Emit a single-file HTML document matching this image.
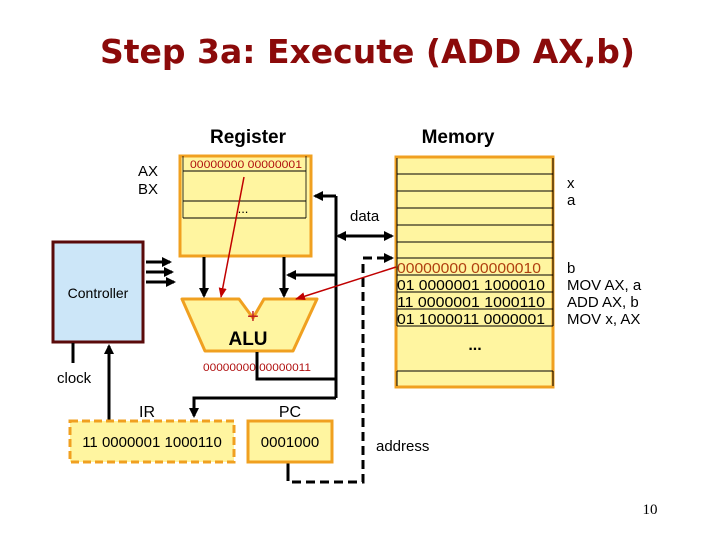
<!DOCTYPE html>
<html><head><meta charset="utf-8"><style>
html,body{margin:0;padding:0;background:#fff;width:720px;height:540px;overflow:hidden}
svg{display:block;font-family:"Liberation Sans",sans-serif}
</style></head><body>
<svg width="720" height="540" viewBox="0 0 720 540" xmlns="http://www.w3.org/2000/svg">
<defs>
<marker id="ah" markerWidth="10" markerHeight="10" refX="8" refY="5" orient="auto" markerUnits="userSpaceOnUse"><path d="M0,0 L10,5 L0,10 z" fill="#000"/></marker>
<marker id="ahs" markerWidth="10" markerHeight="10" refX="2" refY="5" orient="auto" markerUnits="userSpaceOnUse"><path d="M10,0 L0,5 L10,10 z" fill="#000"/></marker>
<marker id="ar" markerWidth="10" markerHeight="8" refX="9" refY="4" orient="auto" markerUnits="userSpaceOnUse"><path d="M0,0 L10,4 L0,8 z" fill="#c00000"/></marker>
</defs>

<text x="100" y="63" style="font-family:'DejaVu Sans',sans-serif;font-weight:bold" font-size="33" fill="#8b0a0a" textLength="535" lengthAdjust="spacingAndGlyphs">Step 3a: Execute (ADD AX,b)</text>

<text x="248" y="143" font-size="19" font-weight="bold" text-anchor="middle">Register</text>
<text x="458" y="143" font-size="19" font-weight="bold" text-anchor="middle">Memory</text>

<text x="138" y="176" font-size="15">AX</text>
<text x="138" y="194" font-size="15">BX</text>

<rect x="180" y="156" width="131" height="100" fill="#fff5a0" stroke="#f0a020" stroke-width="3"/>
<line x1="183" y1="171" x2="306" y2="171" stroke="#000"/>
<line x1="183" y1="201" x2="306" y2="201" stroke="#000"/>
<line x1="183" y1="218" x2="306" y2="218" stroke="#000"/>
<line x1="183" y1="156" x2="183" y2="218" stroke="#000" stroke-width="0.8"/>
<line x1="306" y1="156" x2="306" y2="218" stroke="#000" stroke-width="0.8"/>
<text x="190" y="168" font-size="11" fill="#b01010" textLength="112" lengthAdjust="spacingAndGlyphs">00000000 00000001</text>
<text x="243" y="213" font-size="13" text-anchor="middle">...</text>

<rect x="396" y="157" width="157" height="230" fill="#fff5a0" stroke="#f0a020" stroke-width="3"/>
<g stroke="#000" stroke-width="1">
<line x1="397" y1="174" x2="553" y2="174"/><line x1="397" y1="191" x2="553" y2="191"/>
<line x1="397" y1="208" x2="553" y2="208"/><line x1="397" y1="225" x2="553" y2="225"/>
<line x1="397" y1="242" x2="553" y2="242"/><line x1="397" y1="258" x2="553" y2="258"/>
<line x1="397" y1="275" x2="553" y2="275"/><line x1="397" y1="292" x2="553" y2="292"/>
<line x1="397" y1="309" x2="553" y2="309"/><line x1="397" y1="326" x2="553" y2="326"/>
<line x1="397" y1="371" x2="553" y2="371"/>
<line x1="397" y1="158" x2="397" y2="326"/><line x1="553" y1="158" x2="553" y2="326"/>
<line x1="397" y1="371" x2="397" y2="386"/><line x1="553" y1="371" x2="553" y2="386"/>
</g>
<text x="397" y="273" font-size="15" fill="#b04010" textLength="144" lengthAdjust="spacingAndGlyphs">00000000 00000010</text>
<text x="397" y="290" font-size="15" textLength="148" lengthAdjust="spacingAndGlyphs">01 0000001 1000010</text>
<text x="397" y="307" font-size="15" textLength="148" lengthAdjust="spacingAndGlyphs">11 0000001 1000110</text>
<text x="397" y="324" font-size="15" textLength="148" lengthAdjust="spacingAndGlyphs">01 1000011 0000001</text>
<text x="475" y="350" font-size="16" font-weight="bold" text-anchor="middle">...</text>

<text x="567" y="188" font-size="15">x</text>
<text x="567" y="205" font-size="15">a</text>
<text x="567" y="273" font-size="15">b</text>
<text x="567" y="290" font-size="15">MOV AX, a</text>
<text x="567" y="307" font-size="15">ADD AX, b</text>
<text x="567" y="324" font-size="15">MOV x, AX</text>

<rect x="53" y="242" width="90" height="100" fill="#cce6f8" stroke="#5a0a0a" stroke-width="3"/>
<text x="98" y="298" font-size="14" text-anchor="middle">Controller</text>
<g stroke="#000" stroke-width="3">
<line x1="146" y1="262" x2="170" y2="262" marker-end="url(#ah)"/>
<line x1="146" y1="272" x2="172" y2="272" marker-end="url(#ah)"/>
<line x1="146" y1="282" x2="174" y2="282" marker-end="url(#ah)"/>
<line x1="73" y1="343" x2="73" y2="363"/>
<line x1="109" y1="420" x2="109" y2="346" marker-end="url(#ah)"/>
</g>
<text x="57" y="383" font-size="15">clock</text>

<path d="M182,299 L239,299 L253,318 L264,299 L317,299 L293,351 L205,351 Z" fill="#fff5a0" stroke="#f0a020" stroke-width="3" stroke-linejoin="round"/>
<text x="253" y="323" font-size="20" fill="#c02020" text-anchor="middle">+</text>
<text x="248" y="345" font-size="19" font-weight="bold" text-anchor="middle">ALU</text>
<text x="203" y="371" font-size="11" fill="#b01010" textLength="108" lengthAdjust="spacingAndGlyphs">00000000 00000011</text>

<g stroke="#000" stroke-width="3" fill="none">
<line x1="204" y1="257" x2="204" y2="296" marker-end="url(#ah)"/>
<line x1="284" y1="257" x2="284" y2="296" marker-end="url(#ah)"/>
<polyline points="257,352 257,379 336,379"/>
<line x1="336" y1="196" x2="336" y2="398"/>
<line x1="336" y1="196" x2="315" y2="196" marker-end="url(#ah)"/>
<line x1="336" y1="275" x2="288" y2="275" marker-end="url(#ah)"/>
<line x1="338" y1="236" x2="392" y2="236" marker-end="url(#ah)" marker-start="url(#ahs)"/>
<polyline points="336,398 194,398 194,416" marker-end="url(#ah)"/>
<line x1="288" y1="462" x2="288" y2="472"/>
<polyline points="288,472 288,482 363,482 363,260" stroke-dasharray="9,5"/>
<line x1="363" y1="258" x2="392" y2="258" stroke-dasharray="9,5" marker-end="url(#ah)"/>
</g>
<text x="350" y="221" font-size="15">data</text>

<line x1="244" y1="177" x2="221" y2="297" stroke="#c00000" stroke-width="1.5" marker-end="url(#ar)"/>
<line x1="396" y1="267" x2="296" y2="299" stroke="#c00000" stroke-width="1.5" marker-end="url(#ar)"/>

<text x="147" y="417" font-size="16" text-anchor="middle">IR</text>
<rect x="70" y="421" width="164" height="41" fill="#fff5a0" stroke="#f0a020" stroke-width="3" stroke-dasharray="8,4"/>
<text x="152" y="447" font-size="15" text-anchor="middle">11 0000001 1000110</text>
<text x="290" y="417" font-size="16" text-anchor="middle">PC</text>
<rect x="248" y="421" width="84" height="41" fill="#fff5a0" stroke="#f0a020" stroke-width="3"/>
<text x="290" y="447" font-size="15" text-anchor="middle">0001000</text>
<text x="376" y="451" font-size="15">address</text>

<text x="650" y="514" style="font-family:'Liberation Serif',serif" font-size="15" text-anchor="middle">10</text>
</svg>
</body></html>
